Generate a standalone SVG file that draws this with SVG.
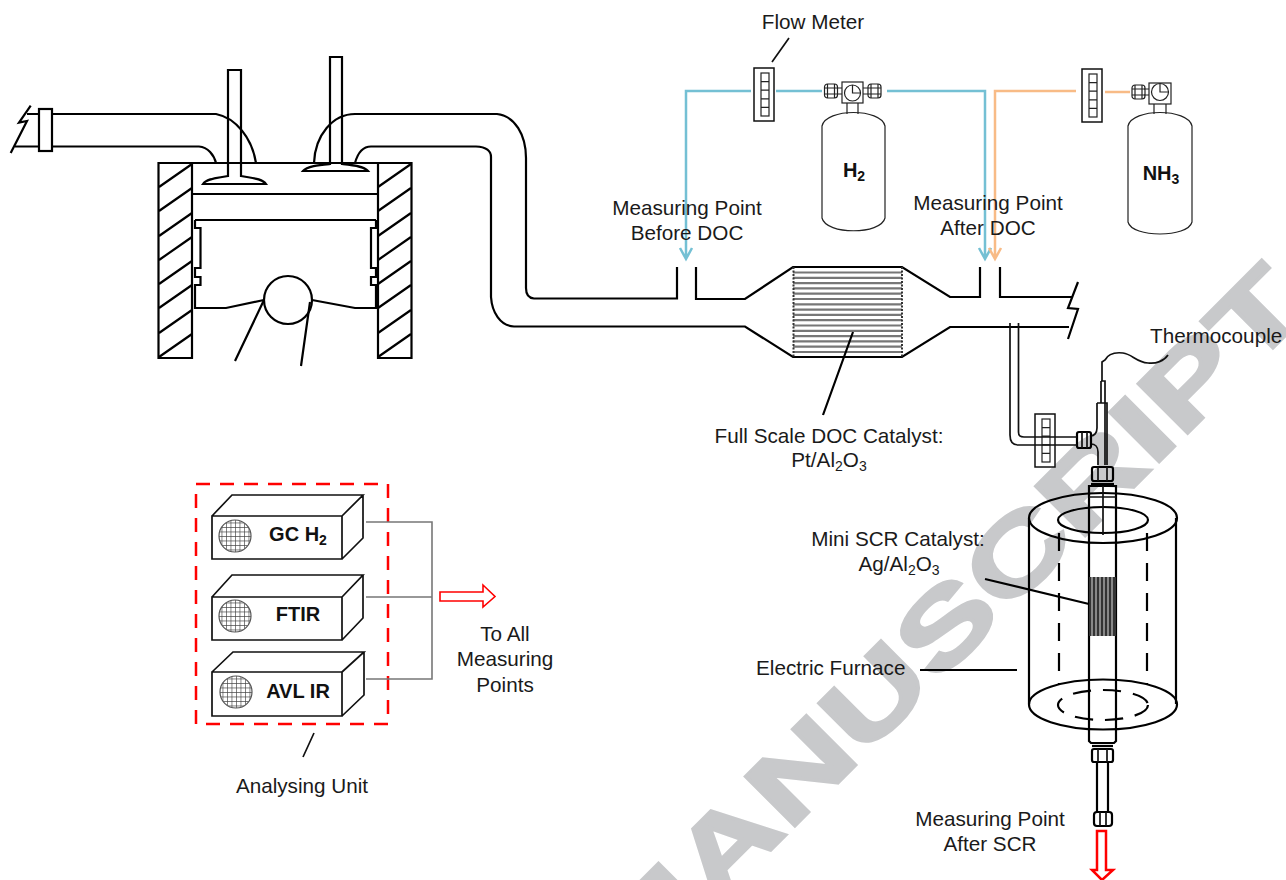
<svg xmlns="http://www.w3.org/2000/svg" width="1286" height="880" viewBox="0 0 1286 880">
<style>
text{font-family:"Liberation Sans",Arial,sans-serif;font-size:20.7px;fill:#1a1a1a}
.c{text-anchor:middle}
.b{font-weight:700;font-size:20px;fill:#111}
.s{font-size:14px}
.wm{font-weight:700;font-size:102px;fill:#c8c9cb;stroke:#c8c9cb;stroke-width:3}
.k{fill:none;stroke:#000;stroke-width:2.2}
.t{fill:none;stroke:#222;stroke-width:1.2}
.m{fill:none;stroke:#111;stroke-width:1.7}
.blue{fill:none;stroke:#74c0d4;stroke-width:2.5}
.or{fill:none;stroke:#f8bb86;stroke-width:2.5}
.g{fill:none;stroke:#777;stroke-width:1.6}
.red{fill:#fff;stroke:#f00;stroke-width:1.6}
.w{fill:#fff;stroke:#111;stroke-width:1.5}
.f{fill:#fff;stroke:#000;stroke-width:2.2}
</style>
<defs>
<pattern id="mesh" width="4.5" height="4.5" patternUnits="userSpaceOnUse"><rect width="4.5" height="4.5" fill="#fff"/><path d="M0 0H4.5M0 0V4.5" stroke="#444" stroke-width="1.3" fill="none"/></pattern>
<g id="meter"><rect class="w" x="0" y="0" width="20" height="53"/><rect class="t" x="7" y="5" width="8" height="43"/><path class="t" d="M7 13.600H15M7 22.200H15M7 30.800H15M7 39.400H15"/></g>
<g id="fit"><rect class="t" x="0" y="0" width="13" height="14" rx="3" stroke-width="1.6"/><path class="t" d="M3 0V14M10 0V14M0 4H13M0 10H13"/></g>
<g id="globe"><circle r="16" fill="url(#mesh)" stroke="#555" stroke-width="1.2"/></g>
</defs>

<text class="wm" transform="translate(1312 309) rotate(-45) scale(1.42 1)" text-anchor="end">MANUSCRIPT</text>

<g id="engine">
<path class="k" d="M158.500 163H192V358H158.500ZM378 163H411.500V358H378Z"/>
<path class="k" d="M192 164L159 187M192 188L159 211M192 213L159 236M192 237L159 260M192 261L159 284M192 285L159 308M192 310L159 333M192 334L159 357M411 164L378 187M411 188L378 211M411 213L378 236M411 237L378 260M411 261L378 284M411 285L378 308M411 310L378 333M411 334L378 357"/>
<path class="k" d="M192 163H378M192 194H378M195 220H376"/>
<path class="k" d="M195 220V228H200.500V268H195V277H200.500V285H195V308H226L264 300"/>
<path class="k" d="M376 220V228H371V268H376V277H371V285H376V308H355L312 300"/>
<circle class="k" cx="288" cy="300" r="24"/>
<path class="k" d="M264 300L235 361M310 302L301 366"/>
<path class="k" d="M228 176V70H241V176C250 178 262 178 266 184H203C207 178 219 178 228 176ZM203 184H266"/>
<path class="k" d="M330 164V57H342V164C352 165 364 166 368 171H303C307 166 319 165 330 164ZM303 171H368"/>
<path class="k" d="M27 114H216C236 118 252 138 256 163M15 146.500H199C208 147 214 155 216 163"/>
<rect class="f" x="39" y="109" width="13" height="42"/>
<path class="k" d="M30.700 105.700L19 122.700L27 121L10.700 153"/>
</g>

<g id="exhaust">
<path class="k" d="M314 163C315 135 333 114 355 114H497C515 116 526 135 526 158V288C526 294 528 298 534 298.500H677V267"/>
<path class="k" d="M355 163C358 152 364 146.500 371 146.500H476C486 147 491 150 491 157V297C492 312 500 326 514 326.500H745L793 357H902L950 327H1069"/>
<path class="k" d="M696 267V299H745L793 267H902L950 297H980V267M1000 267V297H1072"/>
<path class="k" d="M1078 282L1068 308L1078 309L1068 339"/>
</g>

<g id="doc-catalyst">
<path d="M793 272.500H902M793 277.800H902M793 283.100H902M793 288.400H902M793 293.700H902M793 299H902M793 304.300H902M793 309.600H902M793 314.900H902M793 320.200H902M793 325.500H902M793 330.800H902M793 336.100H902M793 341.400H902M793 346.700H902M793 352H902" fill="none" stroke="#777" stroke-width="2.2"/>
<path d="M793.500 267V357M902 267V357" fill="none" stroke="#333" stroke-width="2" stroke-dasharray="2 1.500"/>
</g>

<g id="h2-cylinder">
<path class="t" d="M847 103V114M858 103V114"/>
<path class="t" d="M822 126C826 108 881 108 885 126V218C881 235 826 235 822 218Z"/>
<rect class="t" x="842" y="82" width="21" height="21"/>
<circle class="t" cx="852.500" cy="93" r="8" stroke-width="1.5"/>
<path class="t" d="M852.500 85V93H860.500M837 88H842M837 94H842M863 88H868M863 94H868"/>
<use href="#fit" x="824.500" y="84"/>
<use href="#fit" x="868" y="84"/>
<text class="b c" x="854" y="177">H<tspan class="s" dy="4">2</tspan></text>
</g>

<g id="nh3-cylinder">
<path class="t" d="M1154 104V114M1166 104V114"/>
<path class="t" d="M1128 126C1132 108 1188 108 1192 126V222C1188 238 1132 238 1128 222Z"/>
<rect class="t" x="1149" y="83" width="22" height="21"/>
<circle class="t" cx="1160" cy="92" r="8.500" stroke-width="1.5"/>
<path class="t" d="M1160 84V92H1169M1144 89H1149M1144 95H1149"/>
<use href="#fit" x="1132" y="85"/>
<text class="b c" x="1161" y="180">NH<tspan class="s" dy="4">3</tspan></text>
</g>

<g id="flow-meter-1"><use href="#meter" x="754" y="68"/></g>
<g id="flow-meter-2"><use href="#meter" x="1082" y="69"/></g>
<g id="flow-meter-3"><use href="#meter" x="1035" y="414"/></g>

<g id="analyser-gc">
<path class="m" d="M212 516H342V559H212ZM212 516L232 495H363L342 516M363 495V538L342 559"/>
<use href="#globe" x="235" y="536"/>
<text class="b c" x="298" y="541">GC H<tspan class="s" dy="4">2</tspan></text>
</g>
<g id="analyser-ftir">
<path class="m" d="M212 597H342V640H212ZM212 597L232 575H363L342 597M363 575V618L342 640"/>
<use href="#globe" x="235" y="616"/>
<text class="b c" x="298" y="621">FTIR</text>
</g>
<g id="analyser-avl">
<path class="m" d="M212 672H342V716H212ZM212 672L233 652H364L342 672M364 652V695L342 716"/>
<use href="#globe" x="236" y="692"/>
<text class="b c" x="298" y="698">AVL IR</text>
</g>
<rect id="analysing-unit" x="196" y="484" width="192" height="240" fill="none" stroke="#f00" stroke-width="2.5" stroke-dasharray="14 10"/>

<g id="furnace">
<path class="k" d="M1029 518V704M1176 518V704"/>
<ellipse class="k" cx="1103" cy="518" rx="74" ry="25"/>
<ellipse class="k" cx="1103" cy="520" rx="45" ry="13"/>
<ellipse class="k" cx="1103" cy="704.500" rx="74" ry="25"/>
<ellipse class="k" cx="1103" cy="705" rx="45" ry="15" stroke-dasharray="18 12"/>
<path class="k" d="M1059 533V685M1147 533V685" stroke-dasharray="18 12"/>
</g>

<g id="reactor">
<path class="k" d="M1089 486V741L1091 743H1114L1116 741V486Z"/>
<path class="m" d="M1103 486V535M1089 497H1116"/>
<rect x="1089" y="577" width="27" height="59" fill="#333"/>
<path d="M1092 577V636M1096 577V636M1100 577V636M1104 577V636M1108 577V636M1112 577V636" stroke="#ddd" stroke-width="1" fill="none"/>
<rect class="k" x="1092" y="467" width="21" height="14" rx="2"/>
<path class="m" d="M1098 467V481M1107 467V481"/>
<path class="k" d="M1091 484H1114" stroke-width="3"/>
<path class="m" d="M1097 403H1107V465M1097 403V428C1097 433 1094 436 1091 436M1091 444C1095 444 1098 447 1098 452V465M1101 381H1105V465M1101 381V403"/>
<path class="m" d="M1102 381V362L1105 360C1108 354 1114 352 1123 353C1132 354 1136 362 1148 363C1156 364 1164 361 1168 355"/>
<rect class="k" x="1077" y="432" width="14" height="16" rx="2"/>
<path class="m" d="M1082 432V448M1087 432V448"/>
<path class="m" d="M1010 323V435C1010 442 1013 445 1018 445H1077M1018.500 323V432C1018.500 436 1020 437 1024 437H1077"/>
<path class="k" d="M1092 746H1113" stroke-width="3"/>
<rect class="k" x="1092" y="749" width="21" height="13" rx="2"/>
<path class="m" d="M1098 749V762M1107 749V762"/>
<path class="k" d="M1097 762V812M1108 762V812"/>
<rect class="k" x="1094" y="812" width="18" height="14" rx="3"/>
<path class="m" d="M1100 812V826M1106 812V826"/>
<path class="red" d="M1097 831H1106V870H1113L1102 880L1092 870H1097Z" style="stroke-width:2.5"/>
</g>

<g id="connectors">
<path class="blue" d="M751 91H686V259M680 248L686 259L692 248M776 91H822M887 91H985V259M979 248L985 259L991 248"/>
<path class="or" d="M1076 91H995V259M989 248L995 259L1001 248M1105 92H1130"/>
<path class="g" d="M366 522H432V679H366M366 597H432"/>
<path class="red" d="M440 592H483V585L495 596.500L483 607V601H440Z"/>
<path class="m" d="M789 38L772 62M314 733L303 757"/>
<path class="k" d="M853 332L823 415M985 579L1089 604M920 670H1017"/>
</g>

<g id="labels">
<text class="c" x="813" y="29">Flow Meter</text>
<text class="c" x="687" y="215">Measuring Point</text>
<text class="c" x="687" y="240">Before DOC</text>
<text class="c" x="988" y="210">Measuring Point</text>
<text class="c" x="988" y="235">After DOC</text>
<text x="1150" y="343">Thermocouple</text>
<text class="c" x="829" y="443">Full Scale DOC Catalyst:</text>
<text class="c" x="829" y="467">Pt/Al<tspan class="s" dy="4">2</tspan><tspan dy="-4">O</tspan><tspan class="s" dy="4">3</tspan></text>
<text class="c" x="898" y="546">Mini SCR Catalyst:</text>
<text class="c" x="899" y="571">Ag/Al<tspan class="s" dy="4">2</tspan><tspan dy="-4">O</tspan><tspan class="s" dy="4">3</tspan></text>
<text x="756" y="675">Electric Furnace</text>
<text class="c" x="505" y="641">To All</text>
<text class="c" x="505" y="666">Measuring</text>
<text class="c" x="505" y="692">Points</text>
<text class="c" x="302" y="793">Analysing Unit</text>
<text class="c" x="990" y="826">Measuring Point</text>
<text class="c" x="990" y="851">After SCR</text>
</g>
</svg>
